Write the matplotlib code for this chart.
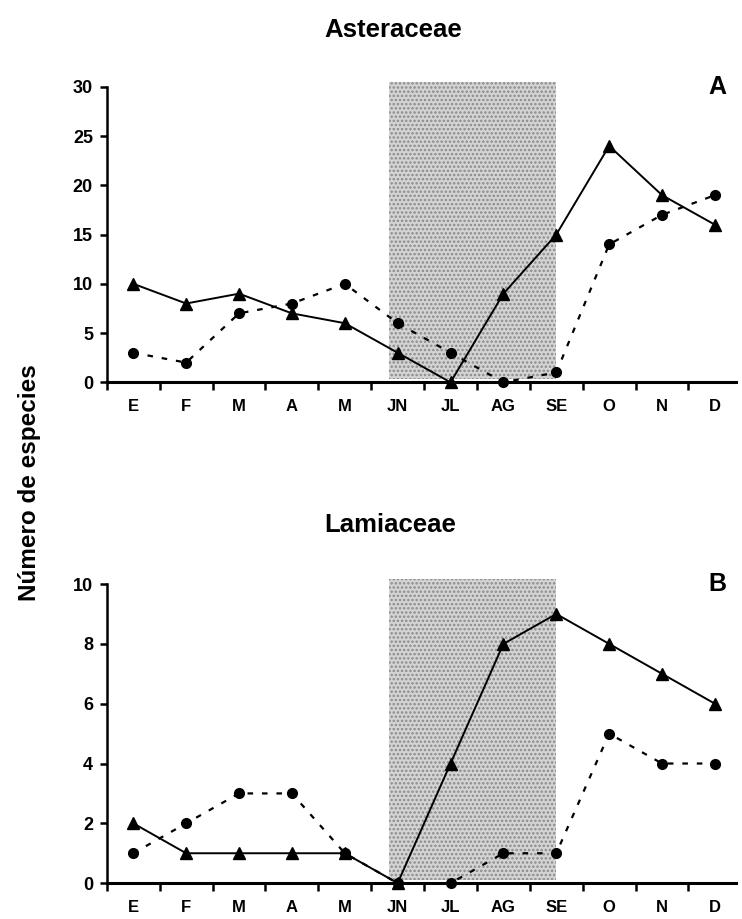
import matplotlib
matplotlib.use("Agg")
from matplotlib import pyplot as plt
import numpy as np

plt.rcParams['font.family'] = ['Liberation Sans', 'DejaVu Sans']
plt.rcParams['font.weight'] = 'bold'
plt.rcParams['hatch.linewidth'] = 1.2

meses = ['E', 'F', 'M', 'A', 'M', 'JN', 'JL', 'AG', 'SE', 'O', 'N', 'D']

# Asteraceae
ast_triangulos = [10, 8, 9, 7, 6, 3, 0, 9, 15, 24, 19, 16]
ast_circulos = [3, 2, 7, 8, 10, 6, 3, 0, 1, 14, 17, 19]

# Lamiaceae
lam_triangulos = [2, 1, 1, 1, 1, 0, 4, 8, 9, 8, 7, 6]
lam_circulos = [1, 2, 3, 3, 1, 0, 0, 1, 1, 5, 4, 4]

x = np.arange(len(meses))


def panel(ax, tri, circ, ymax, paso, letra):
    # temporada seca sombreada
    ax.axvspan(4.83, 8.0, ymin=0.01, ymax=1.0, facecolor='#d4d4d4',
               hatch='....', edgecolor='#8a8a8a', linewidth=0, zorder=0)
    ax.plot(x, tri, color='black', linestyle='-', linewidth=1.4,
            marker='^', markersize=8, zorder=3, clip_on=False)
    ax.plot(x, circ, color='black', linestyle=(0, (2.5, 4)), linewidth=1.6,
            marker='o', markersize=7, zorder=3, clip_on=False)

    ax.set_xlim(-0.47, 11.4)
    ax.set_ylim(0, ymax * 1.017)
    ax.set_yticks(np.arange(0, ymax + 1, paso))
    ax.set_xticks(x)
    ax.set_xticklabels(meses)
    ax.set_xticks(np.arange(-0.5, 11.5, 1), minor=True)
    ax.tick_params(axis='x', which='major', length=0, pad=12, labelsize=12)
    ax.tick_params(axis='x', which='minor', length=6, width=1.8, direction='out')
    ax.tick_params(axis='y', length=5, width=1.8, direction='out', labelsize=13, pad=5)

    for s in ['top', 'right']:
        ax.spines[s].set_visible(False)
    ax.spines['left'].set_linewidth(1.8)
    ax.spines['bottom'].set_linewidth(2.2)
    ax.spines['left'].set_bounds(0, ymax)

    ax.text(0.985, ymax, letra, transform=ax.get_yaxis_transform(),
            fontsize=18, fontweight='bold', ha='right', va='center')


fig = plt.figure(figsize=(7.42, 9.19), dpi=100)
ax1 = fig.add_axes([0.144, 0.584, 0.848, 0.327])
ax2 = fig.add_axes([0.144, 0.039, 0.848, 0.331])

panel(ax1, ast_triangulos, ast_circulos, 30, 5, 'A')
panel(ax2, lam_triangulos, lam_circulos, 10, 2, 'B')

fig.text(0.530, 0.967, 'Asteraceae', fontsize=18.5, fontweight='bold',
         ha='center', va='center')
fig.text(0.526, 0.429, 'Lamiaceae', fontsize=18.5, fontweight='bold',
         ha='center', va='center')
fig.text(0.04, 0.475, 'Número de especies', rotation=90, fontsize=17.5,
         fontweight='bold', ha='center', va='center')

fig.savefig('out.png', dpi=100, facecolor='white')
